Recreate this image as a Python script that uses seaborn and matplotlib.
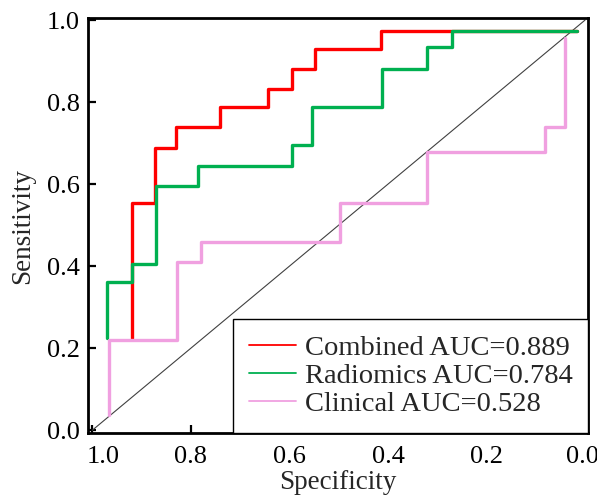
import matplotlib
matplotlib.use("Agg")
import matplotlib.pyplot as plt
import matplotlib.transforms as mtransforms
import seaborn as sns

# ROC step vertices (specificity, sensitivity)
combined_spec = [0.920, 0.873, 0.830, 0.741, 0.644, 0.595, 0.548, 0.414, 0.016]
combined_sens = [0.224, 0.553, 0.688, 0.739, 0.787, 0.831, 0.880, 0.929, 0.973]

radiomics_spec = [0.971, 0.920, 0.871, 0.786, 0.595, 0.554, 0.412, 0.321, 0.270, 0.016]
radiomics_sens = [0.224, 0.361, 0.405, 0.595, 0.644, 0.695, 0.787, 0.880, 0.934, 0.973]

clinical_spec = [0.966, 0.828, 0.780, 0.497, 0.321, 0.081, 0.041, 0.041]
clinical_sens = [0.037, 0.220, 0.410, 0.459, 0.554, 0.678, 0.739, 0.956]

labels = ["Combined AUC=0.889", "Radiomics AUC=0.784", "Clinical AUC=0.528"]
colors = ["#ff0000", "#00b050", "#f0a0e0"]
ticks = [1.0, 0.8, 0.6, 0.4, 0.2, 0.0]

sns.set_style("ticks")
plt.rcParams["font.family"] = ["Liberation Serif", "DejaVu Serif"]

fig = plt.figure(figsize=(5.97, 5.0), dpi=100)
ax = fig.add_axes([0.1474, 0.134, 0.8376, 0.830])

# chance line
sns.lineplot(x=[1.0, 0.0], y=[0.0, 1.0], color="#404040", linewidth=0.8, ax=ax)

lines = []
for sp, se, lab, col in zip([combined_spec, radiomics_spec, clinical_spec],
                            [combined_sens, radiomics_sens, clinical_sens],
                            labels, colors):
    sns.lineplot(x=sp, y=se, sort=False, estimator=None, drawstyle="steps-pre",
                 color=col, linewidth=2.4, ax=ax)
    lines.append(plt.Line2D([], [], color=col, linewidth=1.3))

ax.set_xlim(1.009, -0.006)
ax.set_ylim(-0.007, 1.005)
ax.set_xticks(ticks)
ax.set_yticks(ticks)
ax.set_xticklabels([f"{t:.1f}" for t in ticks])
ax.set_yticklabels([f"{t:.1f}" for t in ticks])
ax.tick_params(direction="in", length=6, width=1.6, labelsize=19, pad=6,
               colors="black", top=False, right=False)
ax.tick_params(axis="x", pad=9.5)
for s in ax.spines.values():
    s.set_linewidth(2)
    s.set_color("black")

# end labels sit a little inward, as in the original
xl = ax.get_xticklabels()
xl[0].set_transform(xl[0].get_transform() + mtransforms.ScaledTranslation(0.11, 0, fig.dpi_scale_trans))
xl[-1].set_transform(xl[-1].get_transform() + mtransforms.ScaledTranslation(-0.03, 0, fig.dpi_scale_trans))

ax.set_xlabel("Specificity", fontsize=19.5, labelpad=1)
ax.set_ylabel("Sensitivity", fontsize=19.5, labelpad=8)

leg = ax.legend(lines, labels, loc="lower right", borderaxespad=0,
                fontsize=20.5, handlelength=1.65, handletextpad=0.3,
                labelspacing=0.08, borderpad=0.55, fancybox=False,
                framealpha=1, edgecolor="black")
leg.get_frame().set_linewidth(1.0)

fig.savefig("out.png", dpi=100)
